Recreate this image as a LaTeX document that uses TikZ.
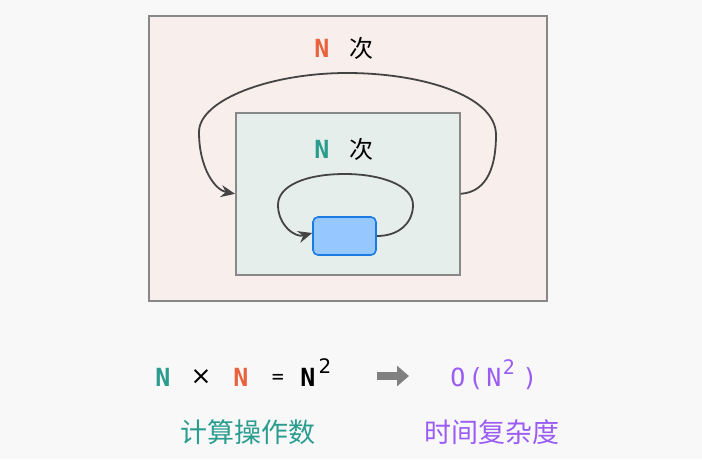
\documentclass[tikz,border=0pt]{standalone}
\usepackage{fontspec}
\setmainfont{DejaVu Sans}
\newfontfamily\cjk{Noto Sans CJK SC}
\newfontfamily\monof{DejaVu Sans Mono}
\usetikzlibrary{arrows.meta}
\definecolor{bgc}{HTML}{F8F8F8}
\definecolor{outerfill}{HTML}{F8EEEC}
\definecolor{innerfill}{HTML}{E6EEEB}
\definecolor{boxline}{HTML}{888888}
\definecolor{bluefill}{HTML}{96C8FF}
\definecolor{blueline}{HTML}{1A7BE0}
\definecolor{orangeN}{HTML}{E8623E}
\definecolor{tealN}{HTML}{2A9D8F}
\definecolor{purpleT}{HTML}{9A5CF5}
\definecolor{loopc}{HTML}{444444}
\definecolor{grayarrow}{HTML}{808080}
\tikzset{
  frame/.style={draw=boxline, line width=1.6pt, anchor=north west, inner sep=0pt},
  loopline/.style={draw=loopc, line width=1.8pt, -{Stealth[length=14pt,width=12pt]}},
  bigN/.style={font=\monof\bfseries\fontsize{25}{25}\selectfont},
  cjklab/.style={font=\cjk\fontsize{24}{24}\selectfont},
  cjkbig/.style={font=\cjk\fontsize{27}{27}\selectfont},
  lbl/.style={inner sep=0pt, anchor=center},
  purp/.style={inner sep=0pt, anchor=base, text=purpleT, font=\monof\fontsize{25}{25}\selectfont}
}
\begin{document}
\begin{tikzpicture}[x=1pt,y=-1pt]
\useasboundingbox (0,0) rectangle (702,459);
\fill[bgc] (0,0) rectangle (702,459);
\node[frame, fill=outerfill, minimum width=398pt, minimum height=285pt] (outer) at (148,15) {};
\node[frame, fill=innerfill, minimum width=224pt, minimum height=162pt] (inner) at (235,112) {};
\node[draw=blueline, fill=bluefill, line width=1.6pt, rounded corners=5pt, minimum width=63pt, minimum height=38pt, inner sep=0pt] (blue) at (344.5,236) {};
% labels N 次
\node[lbl, bigN, text=orangeN] (n1) at (322,48) {N};
\node[lbl, cjklab] (c1) at (361,48) {次};
\node[lbl, bigN, text=tealN] (n2) at (322,149) {N};
\node[lbl, cjklab] (c2) at (361,149) {次};
% outer loop
\draw[loopline] (inner.east) .. controls (488,192) and (496,165) .. (496,135)
  .. controls (496,95) and (420,73) .. (347,73)
  .. controls (270,73) and (199,100) .. (199,132)
  .. controls (199,168) and (215,190) .. (inner.west);
% inner loop
\draw[loopline] (blue.east) .. controls (400,236) and (413,222) .. (413,205)
  .. controls (413,185) and (380,174) .. (345,174)
  .. controls (305,174) and (278,186) .. (278,205)
  .. controls (278,225) and (295,238) .. ([yshift=3pt]blue.west);
% formula
\node[lbl, bigN, text=tealN] (f1) at (163,377) {N};
\node[lbl, font=\fontsize{25}{25}\selectfont] (fx) at (201,377) {×};
\node[lbl, bigN, text=orangeN] (f2) at (241,377) {N};
\node[lbl, font=\monof\fontsize{20}{20}\selectfont] (fe) at (278,379) {=};
\node[lbl, bigN, text=black] (f3) at (308,377) {N};
\node[lbl, font=\fontsize{20}{20}\selectfont] (f4) at (325,366) {2};
\coordinate (ga) at (377,376);
\coordinate (gb) at (409,376);
\draw[grayarrow, line width=8pt, -{Triangle[length=12pt,width=20pt]}] (ga) -- (gb);
\node[purp] (o1) at (458,386) {O};
\node[purp] (o2) at (476,386) {(};
\node[purp] (o3) at (494,386) {N};
\node[purp, font=\monof\fontsize{20}{20}\selectfont] (o4) at (509,374) {2};
\node[purp] (o5) at (530,386) {)};
\node[lbl, cjkbig, text=tealN] (l1) at (248,432) {计算操作数};
\node[lbl, cjkbig, text=purpleT] (l2) at (492,432) {时间复杂度};
\end{tikzpicture}
\end{document}
